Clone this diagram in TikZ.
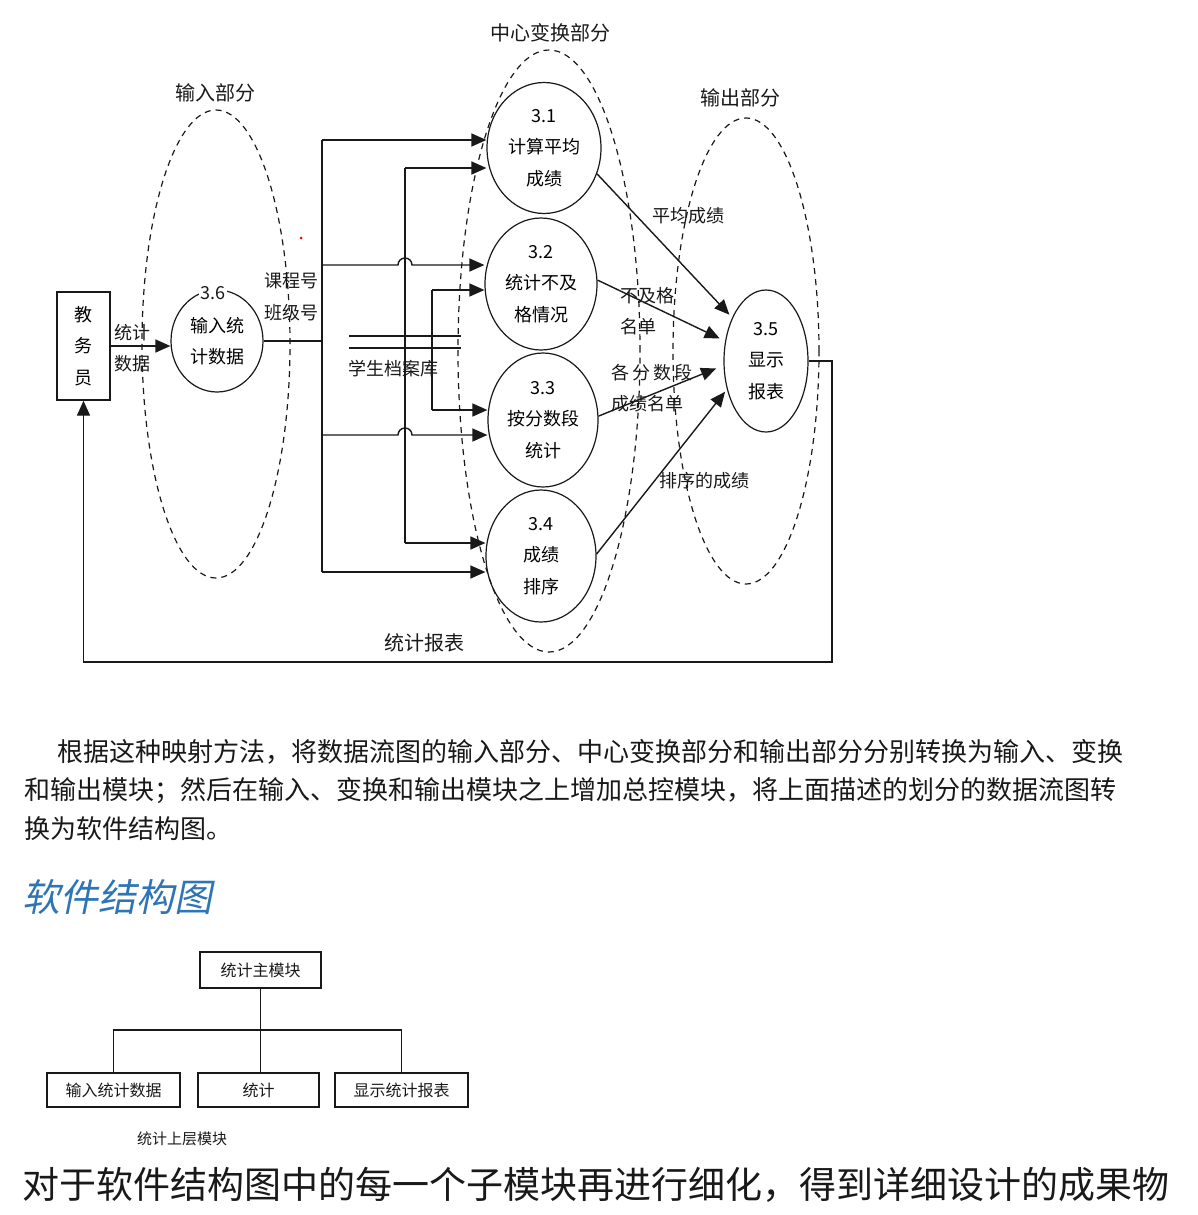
\documentclass[tikz,border=0pt]{standalone}
\usepackage{fontspec}
\setmainfont{Noto Sans CJK SC}
\newfontfamily\headfont[FakeSlant=0.2]{Noto Sans CJK SC}
\usetikzlibrary{arrows.meta,positioning,shapes.geometric}
\newcommand{\fsz}[2]{\fontsize{#1}{#2}\selectfont}
\newcommand{\dfd}{\fsz{18}{31.5}}
\definecolor{ink}{RGB}{25,25,25}
\definecolor{headblue}{RGB}{46,117,182}
\tikzset{box/.style={draw=ink,line width=1.4pt,align=center,inner sep=0pt,font=\dfd},proc/.style={draw=ink,ellipse,line width=1.2pt,inner sep=0pt,align=center,font=\dfd},zone/.style={draw=ink,line width=1.2pt,dash pattern=on 6pt off 5pt},flow/.style={draw=ink,line width=1.4pt},arrow/.style={flow,-{Triangle[length=15pt,width=13pt]}},lbl/.style={inner sep=0pt,align=center,font=\dfd,text=ink},mod/.style={draw=ink,line width=1.4pt,inner sep=0pt,font=\fsz{16}{20},text=ink},para/.style={anchor=west,inner sep=0pt,font=\fsz{26}{30},text=ink}}

\begin{document}
\begin{tikzpicture}[x=1pt,y=-1pt]
\fill[white] (0,0) rectangle (1197,1215);
\useasboundingbox (0,0) rectangle (1197,1215);
\draw[zone] (216,344) ellipse [x radius=74pt,y radius=234pt];
\draw[zone] (549,351) ellipse [x radius=91pt,y radius=301pt];
\draw[zone] (746,351) ellipse [x radius=73pt,y radius=233pt];
\node[lbl,font=\fsz{20}{24}] (zin) at (215,93) {输入部分};
\node[lbl,font=\fsz{20}{24}] (zmid) at (550,33) {中心变换部分};
\node[lbl,font=\fsz{20}{24}] (zout) at (740,98) {输出部分};
\node[box,minimum width=53pt,minimum height=108pt] (clerk) at (83.5,346) {教\\务\\员};
\node[proc,minimum width=92pt,minimum height=102pt] (p36) at (217,341) {输入统\\计数据};
\node[lbl,fill=white,inner sep=2pt] (n36) at (213,293) {3.6};
\node[proc,minimum width=114pt,minimum height=131pt] (p31) at (544,148) {3.1\\计算平均\\成绩};
\node[proc,minimum width=112pt,minimum height=132pt] (p32) at (541,284) {3.2\\统计不及\\格情况};
\node[proc,minimum width=110pt,minimum height=134pt] (p33) at (543,420) {3.3\\按分数段\\统计};
\node[proc,minimum width=110pt,minimum height=132pt] (p34) at (541,556) {3.4\\成绩\\排序};
\node[proc,minimum width=84pt,minimum height=142pt] (p35) at (766,361) {3.5\\显示\\报表};
\node[lbl] (fin) at (132,348) {统计\\数据};
\node[lbl] (fkey) at (291,297) {课程号\\班级号};
\node[lbl] (store) at (393,369) {学生档案库};
\node[lbl] (favg) at (688,216) {平均成绩};
\node[lbl,anchor=west,align=left] (ffail) at (620,311) {不及格\\名单};
\node[lbl,anchor=west,align=left] (fseg) at (611,388) {各\,分\,数\,段\\成绩名单};
\node[lbl] (fsort) at (704,481) {排序的成绩};
\node[lbl,font=\fsz{20}{24}] (frep) at (424,643) {统计报表};
\fill[red] (301,238) circle (1.5pt);
\draw[flow] (349,336) -- (461,336) (349,348) -- (461,348);
\coordinate (ij) at (322,341);
\coordinate (ia) at (322,140);
\coordinate (ib) at (322,265);
\coordinate (ic) at (322,435);
\coordinate (id) at (322,572);
\coordinate (sa) at (405,168);
\coordinate (sd) at (405,543);
\coordinate (sb) at (432,290);
\coordinate (sc) at (432,410);
\coordinate (fbr) at (832,662);
\draw[arrow] (clerk.east) -- (clerk.east -| p36.west);
\draw[flow] (p36.east) -- (ij);
\draw[flow] (ia) -- (id);
\draw[flow] (sa) -- (sd);
\draw[flow] (sb) -- (sc);
\draw[arrow] (ia) -- (ia -| p31.west);
\draw[arrow] (sa) -- (sa -| p31.west);
\draw[arrow] (ib) -- ++(76,0) arc[start angle=180,end angle=0,radius=7pt] -- (ib -| p32.west);
\draw[arrow] (sb) -- (sb -| p32.west);
\draw[arrow] (sc) -- (sc -| p33.west);
\draw[arrow] (ic) -- ++(76,0) arc[start angle=180,end angle=0,radius=7pt] -- (ic -| p33.west);
\draw[arrow] (sd) -- (sd -| p34.west);
\draw[arrow] (id) -- (id -| p34.west);
\draw[arrow,shorten >=4pt] (p31.334) -- (p35.128);
\draw[arrow,shorten >=6pt] (p32.4) -- (p35.154);
\draw[arrow,shorten >=8pt] (p33.4) -- (p35.186);
\draw[arrow,shorten >=3pt] (p34.2) -- (p35.216);
\draw[arrow] (p35.east) -| (fbr) -| (clerk.south);
\node[para] (l1) at (57,752) {根据这种映射方法，将数据流图的输入部分、中心变换部分和输出部分分别转换为输入、变换};
\node[para] (l2) at (24,791) {和输出模块；然后在输入、变换和输出模块之上增加总控模块，将上面描述的划分的数据流图转};
\node[para] (l3) at (24,829) {换为软件结构图。};
\node[anchor=west,inner sep=0pt,font=\headfont\fsz{38}{44},text=headblue] (head) at (22,897) {软件结构图};
\node[mod,minimum width=121pt,minimum height=36pt] (top) at (260.5,970) {统计主模块};
\node[mod,minimum width=133pt,minimum height=34pt] (m1) at (113.5,1090) {输入统计数据};
\node[mod,minimum width=121pt,minimum height=34pt] (m2) at (258.5,1090) {统计};
\node[mod,minimum width=133pt,minimum height=34pt] (m3) at (401.5,1090) {显示统计报表};
\coordinate (bar) at (260.5,1030);
\draw[flow] (top.south) -- (top.south |- m2.north);
\draw[flow] (m1.north) |- (bar) -| (m3.north);
\node[lbl,font=\fsz{15}{18}] (cap) at (182,1139) {统计上层模块};
\node[anchor=west,inner sep=0pt,font=\fsz{37}{42},text=ink] (last) at (22,1185) {对于软件结构图中的每一个子模块再进行细化，得到详细设计的成果物};
\end{tikzpicture}
\end{document}
